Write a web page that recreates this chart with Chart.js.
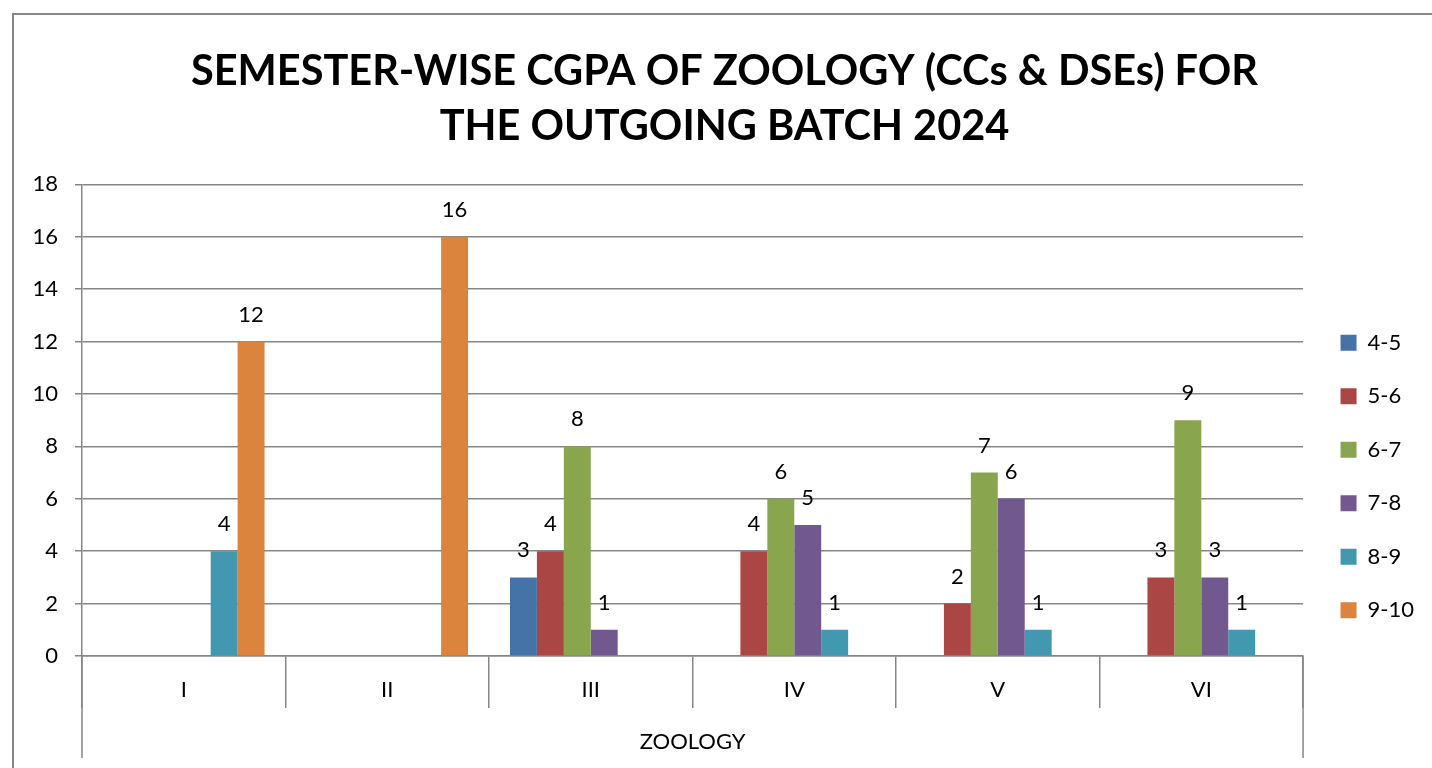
<!DOCTYPE html>
<html>
<head>
<meta charset="utf-8">
<script src="https://cdn.jsdelivr.net/npm/chart.js@4"></script>
<style>
  html, body { margin: 0; padding: 0; background: #fff; }
  #wrap { width: 1432px; height: 768px; position: relative; }
</style>
</head>
<body>
<div id="wrap"><canvas id="cgpa-chart" width="1432" height="768"></canvas></div>
<script>
// semesters on the x axis
const semesters = ['I', 'II', 'III', 'IV', 'V', 'VI'];
const yTicks = [0, 2, 4, 6, 8, 10, 12, 14, 16, 18];

// number of students per CGPA band (null = no bar)
const band45 = [null, null, 3, null, null, null];
const band56 = [null, null, 4, 4, 2, 3];
const band67 = [null, null, 8, 6, 7, 9];
const band78 = [null, null, 1, 5, 6, 3];
const band89 = [4, null, null, 1, 1, 1];
const band910 = [12, 16, null, null, null, null];

const FONT = 'Lato';
const GRID = '#878787';
const TXT = 22;

// value labels above every bar
const valueLabels = {
    id: 'valueLabels',
    afterDatasetsDraw(chart) {
        const ctx = chart.ctx;
        ctx.save();
        ctx.font = TXT + 'px ' + FONT;
        ctx.fillStyle = '#000';
        ctx.textAlign = 'center';
        ctx.textBaseline = 'middle';
        chart.data.datasets.forEach((ds, i) => {
            chart.getDatasetMeta(i).data.forEach((bar, j) => {
                if (ds.data[j] == null) return;
                ctx.fillText(ds.data[j], bar.x, bar.y - 27);
            });
        });
        ctx.restore();
    }
};

// move the legend block down/right a bit, like the excel one
const legendShift = {
    id: 'legendShift',
    afterLayout(chart) {
        const lg = chart.legend;
        lg.top = 185;
        lg.left += 6;
        lg.right += 6;
    }
};

// outer frame + long lines of the grouped category axis
const frame = {
    id: 'frame',
    afterDraw(chart) {
        const ctx = chart.ctx;
        const a = chart.chartArea;
        ctx.save();
        ctx.strokeStyle = GRID;
        ctx.lineWidth = 2;
        ctx.beginPath();
        ctx.moveTo(13, 768);
        ctx.lineTo(13, 14);
        ctx.lineTo(1432, 14);
        ctx.stroke();
        ctx.lineWidth = 1.5;
        ctx.beginPath();
        ctx.moveTo(a.left, a.bottom);
        ctx.lineTo(a.left, 758);
        ctx.moveTo(a.right, a.bottom);
        ctx.lineTo(a.right, 758);
        ctx.stroke();
        ctx.restore();
    }
};

const ctx = document.getElementById('cgpa-chart').getContext('2d');
Chart.defaults.font.family = FONT;
Chart.defaults.color = '#000';

new Chart(ctx, {
    type: 'bar',
    data: {
        labels: semesters,
        datasets: [
            { label: '4-5', data: band45, backgroundColor: '#4572A7' },
            { label: '5-6', data: band56, backgroundColor: '#AA4643' },
            { label: '6-7', data: band67, backgroundColor: '#89A54E' },
            { label: '7-8', data: band78, backgroundColor: '#71588F' },
            { label: '8-9', data: band89, backgroundColor: '#4198AF' },
            { label: '9-10', data: band910, backgroundColor: '#DB843D' }
        ]
    },
    options: {
        responsive: false,
        animation: false,
        devicePixelRatio: 1,
        layout: { padding: { left: 31, right: 14, top: 44, bottom: 0 } },
        datasets: { bar: { categoryPercentage: 0.794, barPercentage: 1, skipNull: false } },
        plugins: {
            title: {
                display: true,
                text: ['SEMESTER-WISE CGPA OF ZOOLOGY (CCs & DSEs) FOR', 'THE OUTGOING BATCH 2024'],
                font: { size: 41.5, weight: 'bold', lineHeight: 1.33 },
                color: '#000',
                padding: { top: 0, bottom: 30 }
            },
            legend: {
                position: 'right',
                labels: { boxWidth: 16, boxHeight: 16, padding: 31.5, font: { size: TXT }, color: '#000' }
            },
            tooltip: { enabled: false }
        },
        scales: {
            x: {
                afterFit: s => { s.height = 112; },
                grid: { offset: true, drawOnChartArea: false, tickLength: 52, color: GRID, lineWidth: 1.5 },
                border: { color: GRID, width: 1.5 },
                ticks: { font: { size: TXT }, color: '#000', padding: -31 },
                title: { display: true, text: 'ZOOLOGY', font: { size: TXT }, color: '#000', padding: { top: 0, bottom: 13 } }
            },
            y: {
                min: 0,
                max: 18,
                afterFit: s => { s.width = 51; },
                afterBuildTicks: s => { s.ticks = yTicks.map(v => ({ value: v })); },
                grid: { color: GRID, lineWidth: 1.5, tickLength: 7 },
                border: { color: GRID, width: 1.5 },
                ticks: { font: { size: TXT }, color: '#000', padding: 17 }
            }
        }
    },
    plugins: [valueLabels, legendShift, frame]
});
</script>
</body>
</html>
